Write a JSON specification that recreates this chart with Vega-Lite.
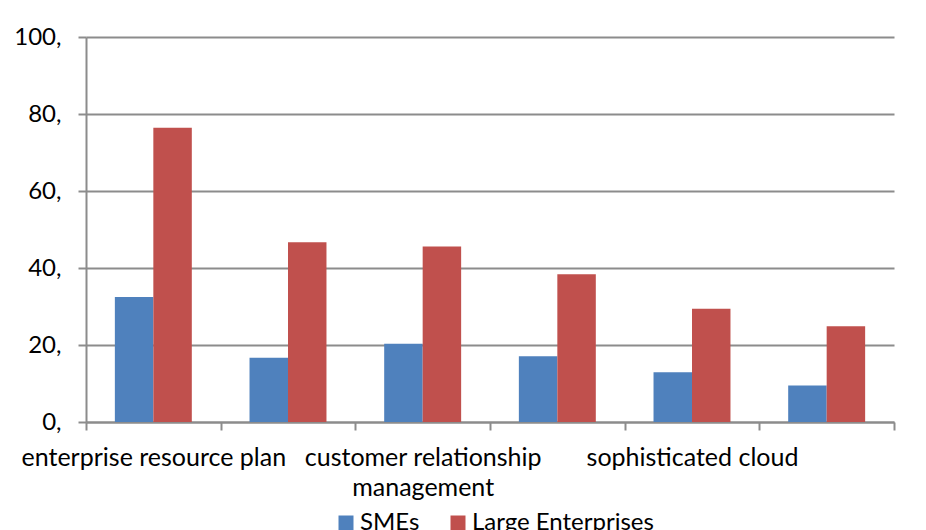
{
  "$schema": "https://vega.github.io/schema/vega-lite/v6.json",
  "autosize": {"type": "none"},
  "padding": {"left": 86, "top": 37, "right": 32, "bottom": 108},
  "width": 808,
  "height": 385,
  "background": "white",
  "data": {
    "values": [
      {"category": "enterprise resource plan", "series": "SMEs", "value": 32.5},
      {"category": "enterprise resource plan", "series": "Large Enterprises", "value": 76.4},
      {"category": "e-invoicing", "series": "SMEs", "value": 16.7},
      {"category": "e-invoicing", "series": "Large Enterprises", "value": 46.7},
      {"category": "customer relationship management", "series": "SMEs", "value": 20.3},
      {"category": "customer relationship management", "series": "Large Enterprises", "value": 45.6},
      {"category": "supply chain management", "series": "SMEs", "value": 17.1},
      {"category": "supply chain management", "series": "Large Enterprises", "value": 38.4},
      {"category": "sophisticated cloud", "series": "SMEs", "value": 12.9},
      {"category": "sophisticated cloud", "series": "Large Enterprises", "value": 29.4},
      {"category": "big data analysis", "series": "SMEs", "value": 9.5},
      {"category": "big data analysis", "series": "Large Enterprises", "value": 24.9}
    ]
  },
  "mark": {"type": "bar"},
  "encoding": {
    "x": {
      "field": "category",
      "type": "nominal",
      "sort": null,
      "title": null,
      "scale": {"paddingInner": 0, "paddingOuter": 0},
      "axis": {
        "tickBand": "extent",
        "labelAngle": 0,
        "labelOverlap": false,
        "labelBound": false,
        "labelLimit": 0,
        "labelFont": "Lato",
        "labelFontSize": 25,
        "labelColor": "#000000",
        "labelLineHeight": 30,
        "labelPadding": 15,
        "labelBaseline": "top",
        "domainColor": "#8c8c8c",
        "domainWidth": 2,
        "tickColor": "#8c8c8c",
        "tickWidth": 2,
        "tickSize": 8,
        "grid": false,
        "labelExpr": "datum.value == 'customer relationship management' ? ['customer relationship', 'management'] : (indexof(['enterprise resource plan', 'sophisticated cloud'], datum.value) >= 0 ? datum.value : '')"
      }
    },
    "xOffset": {
      "field": "series",
      "type": "nominal",
      "sort": ["SMEs", "Large Enterprises"],
      "scale": {"paddingInner": 0, "paddingOuter": 0.75}
    },
    "y": {
      "field": "value",
      "type": "quantitative",
      "title": null,
      "scale": {"domain": [0, 100], "nice": false},
      "axis": {
        "values": [0, 20, 40, 60, 80, 100],
        "labelExpr": "datum.label + ','",
        "labelFont": "Lato",
        "labelFontSize": 24,
        "labelColor": "#000000",
        "labelPadding": 17,
        "domainColor": "#8c8c8c",
        "domainWidth": 2,
        "tickColor": "#8c8c8c",
        "tickWidth": 2,
        "tickSize": 8,
        "grid": true,
        "gridColor": "#8c8c8c",
        "gridWidth": 2,
        "gridOpacity": 1
      }
    },
    "color": {
      "field": "series",
      "type": "nominal",
      "sort": ["SMEs", "Large Enterprises"],
      "scale": {"domain": ["SMEs", "Large Enterprises"], "range": ["#4F81BD", "#C0504D"]},
      "legend": {
        "title": null,
        "orient": "none",
        "direction": "horizontal",
        "legendX": 248,
        "legendY": 474,
        "symbolType": "square",
        "symbolSize": 225,
        "symbolStrokeWidth": 0,
        "symbolOpacity": 1,
        "labelFont": "Lato",
        "labelFontSize": 24,
        "labelLimit": 0,
        "labelColor": "#000000",
        "labelOffset": 2,
        "columnPadding": 26
      }
    }
  },
  "config": {
    "view": {"stroke": null}
  }
}
